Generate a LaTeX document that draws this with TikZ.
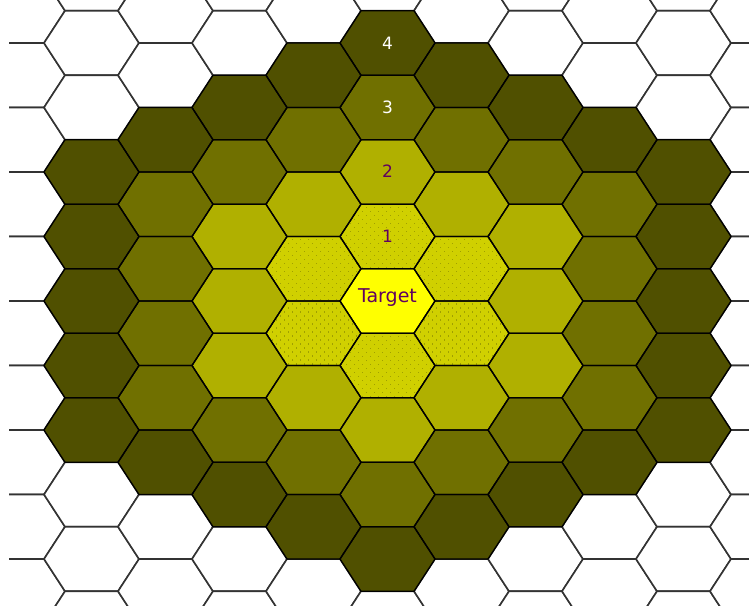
\documentclass[tikz,border=0pt]{standalone}
\usepackage{fontspec}
\setmainfont{DejaVu Sans}

\definecolor{tgtfill}{RGB}{255,255,0}
\definecolor{ringone}{RGB}{208,208,0}
\definecolor{ringtwo}{RGB}{176,176,0}
\definecolor{ringthree}{RGB}{112,112,0}
\definecolor{ringfour}{RGB}{80,80,0}
\definecolor{dotcol}{RGB}{160,160,0}
\definecolor{lblcol}{RGB}{96,0,96}

\begin{document}
\begin{tikzpicture}[x=1pt, y=-1pt, line join=round,
    hexcell/.pic={\path[pic actions] (-47.5,0) -- (-26.5,-32.25) -- (26.5,-32.25)
        -- (47.5,0) -- (26.5,32.25) -- (-26.5,32.25) -- cycle;},
    hexspots/.pic={\begin{scope}
        \clip (-47.5,0) -- (-26.5,-32.25) -- (26.5,-32.25)
          -- (47.5,0) -- (26.5,32.25) -- (-26.5,32.25) -- cycle;
        \foreach \i in {-6,...,5}
          \foreach \j in {-5,...,4}{
            \fill[dotcol] (8*\i+2,8*\j+2) rectangle +(1.3,1.3);
            \fill[dotcol] (8*\i+6,8*\j+6) rectangle +(1.3,1.3);}
      \end{scope}},
    outer/.style={draw=black!80, line width=1.6pt, fill=white},
    inner/.style={draw=black, line width=1.3pt},
    ring0/.style={fill=tgtfill},
    ring1/.style={fill=ringone},
    ring2/.style={fill=ringtwo},
    ring3/.style={fill=ringthree},
    ring4/.style={fill=ringfour},
    lbl/.style={font=\fontsize{17}{17}\selectfont, text=lblcol}]
  \useasboundingbox (0,0) rectangle (749,605);

  \begin{scope}
    \clip (9,0) rectangle (749,605);
    % empty cells first
    \foreach \q in {-5,...,5}
      \foreach \m in {-8,...,8}{
        \pgfmathtruncatemacro\dist{(abs(\q)+abs(\m)+abs(\q+\m))/2}
        \ifnum\dist>4
          \pic[outer] at ({387.5+74*(\q)}, {301+64.5*(\m)+32.25*(\q)}) {hexcell};
        \fi}
    % rings round the target
    \foreach \q in {-4,...,4}
      \foreach \m in {-4,...,4}{
        \pgfmathtruncatemacro\dist{(abs(\q)+abs(\m)+abs(\q+\m))/2}
        \ifnum\dist<5
          \pic[fill, ring\dist] at ({387.5+74*(\q)}, {301+64.5*(\m)+32.25*(\q)}) {hexcell};
          \ifnum\dist=1
            \pic at ({387.5+74*(\q)}, {301+64.5*(\m)+32.25*(\q)}) {hexspots};
          \fi
        \fi}
    % outlines on top
    \foreach \q in {-4,...,4}
      \foreach \m in {-4,...,4}{
        \pgfmathtruncatemacro\dist{(abs(\q)+abs(\m)+abs(\q+\m))/2}
        \ifnum\dist<5
          \pic[inner] at ({387.5+74*(\q)}, {301+64.5*(\m)+32.25*(\q)}) {hexcell};
        \fi}
  \end{scope}

  \node[lbl, text=white] (four) at (387.5,43) {4};
  \node[lbl, text=white] (three) at (387.5,107.5) {3};
  \node[lbl] (two) at (387.5,171) {2};
  \node[lbl] (one) at (387.5,236.5) {1};
  \node[lbl, font=\fontsize{19}{19}\selectfont] (target) at (387.5,298) {Target};
\end{tikzpicture}
\end{document}
